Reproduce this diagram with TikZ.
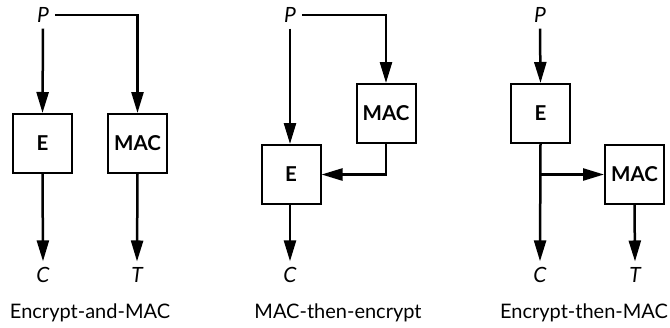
\documentclass[tikz,border=0pt]{standalone}
\usepackage{fontspec}
\setmainfont{Lato}
\usetikzlibrary{arrows.meta,calc}
\begin{document}
\begin{tikzpicture}[x=1pt,y=-1pt,
  box/.style={draw, line width=2pt, minimum width=59pt, minimum height=59pt, inner sep=0pt, font=\fontsize{20.5}{20.5}\selectfont\bfseries},
  lbl/.style={inner sep=0pt, outer sep=6pt, font=\fontsize{21}{21}\selectfont\itshape},
  captxt/.style={inner sep=0pt, font=\fontsize{20}{20}\selectfont},
  arr/.style={line width=2.5pt, -{Triangle[length=21pt,width=12pt]}}]
\useasboundingbox (0,0) rectangle (670,327);
% Panel 1
\node[lbl] (P1) at (43,15) {P};
\node[box] (E1) at (42.5,143.5) {E};
\node[box] (M1) at (137.5,143.5) {MAC};
\node[lbl] (C1) at (43,275) {C};
\node[lbl] (T1) at (137,275) {T};
\node[captxt] (K1) at (90,313) {Encrypt-and-MAC};
\draw[arr] (P1.south) -- (E1.north);
\draw[arr] (P1.east) -| (M1.north);
\draw[arr] (E1.south) -- (C1.north);
\draw[arr] (M1.south) -- (T1.north);
% Panel 2
\node[lbl] (P2) at (290,15) {P};
\node[box] (M2) at (386,113.5) {MAC};
\node[box] (E2) at (291,174.5) {E};
\node[lbl] (C2) at (290,275) {C};
\node[captxt] (K2) at (338,313) {MAC-then-encrypt};
\draw[arr] (P2.south) -- (P2.south |- E2.north);
\draw[arr] (P2.east) -| (M2.north);
\draw[arr] (M2.south) |- (E2.east);
\draw[arr] (P2.south |- E2.south) -- (C2.north);
% Panel 3
\node[lbl] (P3) at (540,15) {P};
\node[box] (E3) at (540.5,113.5) {E};
\node[box] (M3) at (634.5,174.5) {MAC};
\node[lbl] (C3) at (540,275) {C};
\node[lbl] (T3) at (635,275) {T};
\node[captxt] (K3) at (584,313) {Encrypt-then-MAC};
\coordinate (B3) at (E3.south |- M3.west);
\draw[arr] (P3.south) -- (E3.north);
\draw[arr] (E3.south) -- (C3.north);
\draw[arr] (B3) -- (M3.west);
\draw[arr] (M3.south) -- (T3.north);
\end{tikzpicture}
\end{document}
